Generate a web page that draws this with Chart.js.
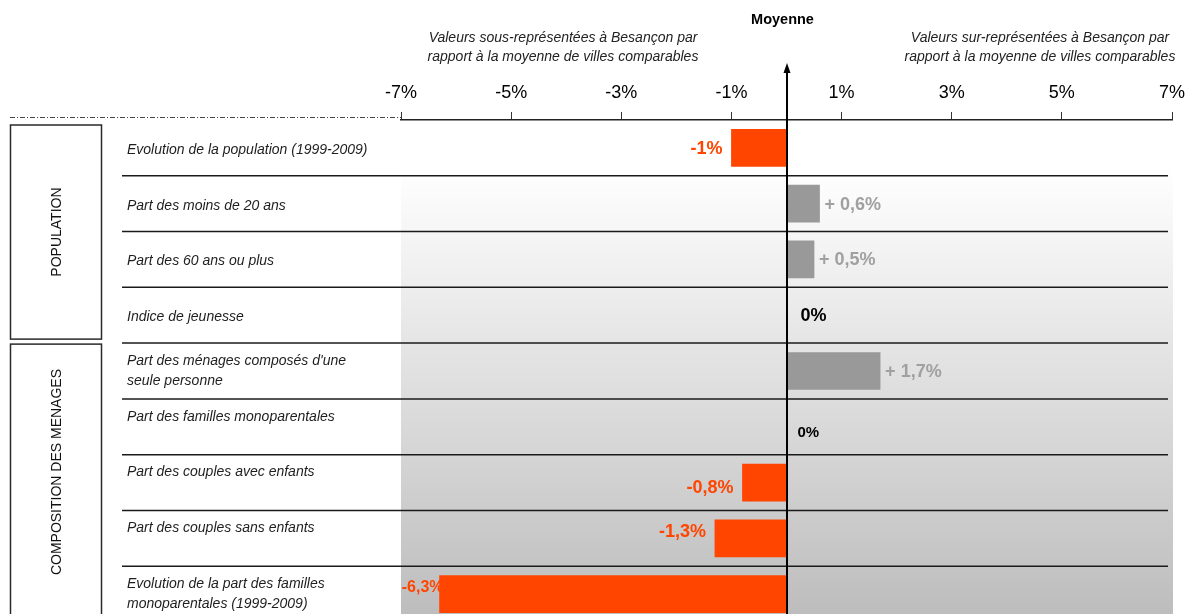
<!DOCTYPE html>
<html><head><meta charset="utf-8">
<script src="https://cdn.jsdelivr.net/npm/chart.js@4/dist/chart.umd.min.js"></script>
<style>html,body{margin:0;padding:0;background:#fff;overflow:hidden;width:1186px;height:614px}canvas{display:block}</style>
</head><body>
<canvas id="c" width="1186" height="630"></canvas>
<script>
const categories = [
  "Evolution de la population (1999-2009)",
  "Part des moins de 20 ans",
  "Part des 60 ans ou plus",
  "Indice de jeunesse",
  ["Part des ménages composés d'une", "seule personne"],
  ["Part des familles monoparentales", ""],
  ["Part des couples avec enfants", ""],
  ["Part des couples sans enfants", ""],
  ["Evolution de la part des familles", "monoparentales (1999-2009)"]
];
const values = [-1, 0.6, 0.5, 0, 1.7, 0, -0.8, -1.3, -6.3];
const tickValues = [-7, -5, -3, -1, 1, 3, 5, 7];
const groupNames = ["POPULATION", "COMPOSITION DES MENAGES"];
const groupFrom = [0, 4];
const groupTo = [3, 8];
const headerLeft = ["Valeurs sous-représentées à Besançon par", "rapport à la moyenne de villes comparables"];
const headerRight = ["Valeurs sur-représentées à Besançon par", "rapport à la moyenne de villes comparables"];
const meanLabel = "Moyenne";

const FONT = '"Liberation Sans", Arial, sans-serif';

function fmt(v) {
  if (v === 0) return '0%';
  const s = String(Math.abs(v)).replace('.', ',');
  return v > 0 ? '+ ' + s + '%' : '-' + s + '%';
}

const decor = {
  id: 'decor',
  beforeDraw(chart) {
    const { ctx, chartArea: a } = chart;
    ctx.save();
    const g = ctx.createLinearGradient(0, a.top + 48, 0, 614);
    g.addColorStop(0, '#ffffff');
    g.addColorStop(1, '#bdbdbd');
    ctx.fillStyle = g;
    ctx.fillRect(a.left, a.top, a.right - a.left + 1, chart.height - a.top);
    ctx.restore();
  },
  beforeDatasetsDraw(chart, args, opts) {
    const { ctx, chartArea: a, scales: { x, y } } = chart;
    const step = y.getPixelForValue(1) - y.getPixelForValue(0);
    ctx.save();
    // separators
    ctx.strokeStyle = '#1a1a1a';
    ctx.lineWidth = 1.5;
    for (let i = 0; i < categories.length - 1; i++) {
      const yy = (y.getPixelForValue(i) + y.getPixelForValue(i + 1)) / 2;
      ctx.beginPath(); ctx.moveTo(122, yy); ctx.lineTo(1168, yy); ctx.stroke();
    }
    // dash-dot line
    ctx.strokeStyle = '#444';
    ctx.lineWidth = 1;
    ctx.setLineDash([5, 2, 1, 2]);
    ctx.beginPath(); ctx.moveTo(10, a.top - 2.5); ctx.lineTo(a.left, a.top - 2.5); ctx.stroke();
    ctx.setLineDash([]);
    // group boxes
    ctx.strokeStyle = '#2a2a2a';
    ctx.lineWidth = 1.5;
    for (let g = 0; g < groupNames.length; g++) {
      const top = y.getPixelForValue(groupFrom[g]) - step / 2 + (groupFrom[g] === 0 ? 5 : 1);
      const bot = y.getPixelForValue(groupTo[g]) + step / 2 - 4;
      ctx.strokeRect(10.5, top, 91, bot - top);
      const visBot = Math.min(bot, 600);
      const cy = (top + (g === 0 ? bot : visBot)) / 2;
      ctx.save();
      ctx.translate(57, cy);
      ctx.rotate(-Math.PI / 2);
      ctx.fillStyle = '#111';
      ctx.font = '14px ' + FONT;
      ctx.textAlign = 'center';
      ctx.textBaseline = 'middle';
      ctx.fillText(groupNames[g], 0, 0);
      ctx.restore();
    }
    // row labels
    ctx.fillStyle = '#1e1e1e';
    ctx.font = 'italic 14px ' + FONT;
    ctx.textAlign = 'left';
    ctx.textBaseline = 'middle';
    categories.forEach((lab, i) => {
      const lines = Array.isArray(lab) ? lab : [lab];
      const cy = y.getPixelForValue(i);
      const lh = 20;
      const start = cy - (lines.length - 1) * lh / 2 + (lines.length === 1 ? 2 : 0);
      lines.forEach((t, k) => ctx.fillText(t, 127, start + k * lh));
    });
    // value labels
    const zero = x.getPixelForValue(0);
    values.forEach((v, i) => {
      const size = (opts.labelSize && opts.labelSize[i]) || 18;
      const dy = (opts.labelDy && opts.labelDy[i]) || 0;
      const dx = (opts.labelDx && opts.labelDx[i]) || 0;
      const end = x.getPixelForValue(v);
      const cy = y.getPixelForValue(i) + 1 + dy;
      ctx.font = 'bold ' + size + 'px ' + FONT;
      ctx.textBaseline = 'middle';
      if (v < 0) {
        ctx.fillStyle = '#ff4500'; ctx.textAlign = 'right';
        ctx.fillText(fmt(v), end - 9 + dx, cy);
      } else if (v > 0) {
        ctx.fillStyle = '#a0a0a0'; ctx.textAlign = 'left';
        ctx.fillText(fmt(v), end + 5 + dx, cy);
      } else {
        ctx.fillStyle = '#000'; ctx.textAlign = 'left';
        ctx.fillText(fmt(v), zero + 14 + dx, cy);
      }
    });
    // headers
    ctx.fillStyle = '#000';
    ctx.font = 'bold 14.5px ' + FONT;
    ctx.textAlign = 'center';
    ctx.textBaseline = 'middle';
    ctx.fillText(meanLabel, zero - 4, 20);
    ctx.fillStyle = '#222';
    ctx.font = 'italic 14px ' + FONT;
    headerLeft.forEach((t, k) => ctx.fillText(t, 563, 38 + k * 19));
    headerRight.forEach((t, k) => ctx.fillText(t, 1040, 38 + k * 19));
    ctx.restore();
  },
  afterDatasetsDraw(chart) {
    const { ctx, scales: { x } } = chart;
    const x0 = Math.round(x.getPixelForValue(0));
    ctx.save();
    ctx.strokeStyle = '#000';
    ctx.lineWidth = 2;
    ctx.beginPath(); ctx.moveTo(x0, 71); ctx.lineTo(x0, chart.height); ctx.stroke();
    ctx.fillStyle = '#000';
    ctx.beginPath(); ctx.moveTo(x0 - 3.5, 73); ctx.lineTo(x0 + 3.5, 73); ctx.lineTo(x0, 63); ctx.closePath(); ctx.fill();
    ctx.restore();
  }
};

new Chart(document.getElementById('c'), {
  type: 'bar',
  data: {
    labels: categories,
    datasets: [{
      data: values,
      backgroundColor: c => values[c.dataIndex] < 0 ? '#ff4500' : '#999999',
      borderWidth: 0,
      barThickness: 37
    }]
  },
  options: {
    indexAxis: 'y',
    responsive: false,
    devicePixelRatio: 1,
    animation: false,
    layout: { padding: { left: 401, right: 14, top: 0, bottom: 8 } },
    plugins: {
      legend: { display: false },
      tooltip: { enabled: false },
      decor: {
        labelSize: { 5: 15, 8: 16 },
        labelDy: { 5: 5, 6: 4, 7: -7, 8: -8 },
        labelDx: { 5: -3, 8: 13 }
      }
    },
    scales: {
      x: {
        type: 'linear', position: 'top', min: -7, max: 7,
        afterBuildTicks: s => { s.ticks = tickValues.map(v => ({ value: v })); },
        afterFit: s => { s.height = 120; s.paddingLeft = 0; s.paddingRight = 0; },
        ticks: { callback: v => v + '%', font: { family: FONT, size: 18 }, color: '#000', padding: 8 },
        grid: { drawOnChartArea: false, drawTicks: true, tickLength: 8, color: '#333', lineWidth: 1 },
        border: { display: true, color: '#222', width: 1.5 }
      },
      y: { display: false, grid: { display: false } }
    }
  },
  plugins: [decor]
});
</script>
</body></html>
